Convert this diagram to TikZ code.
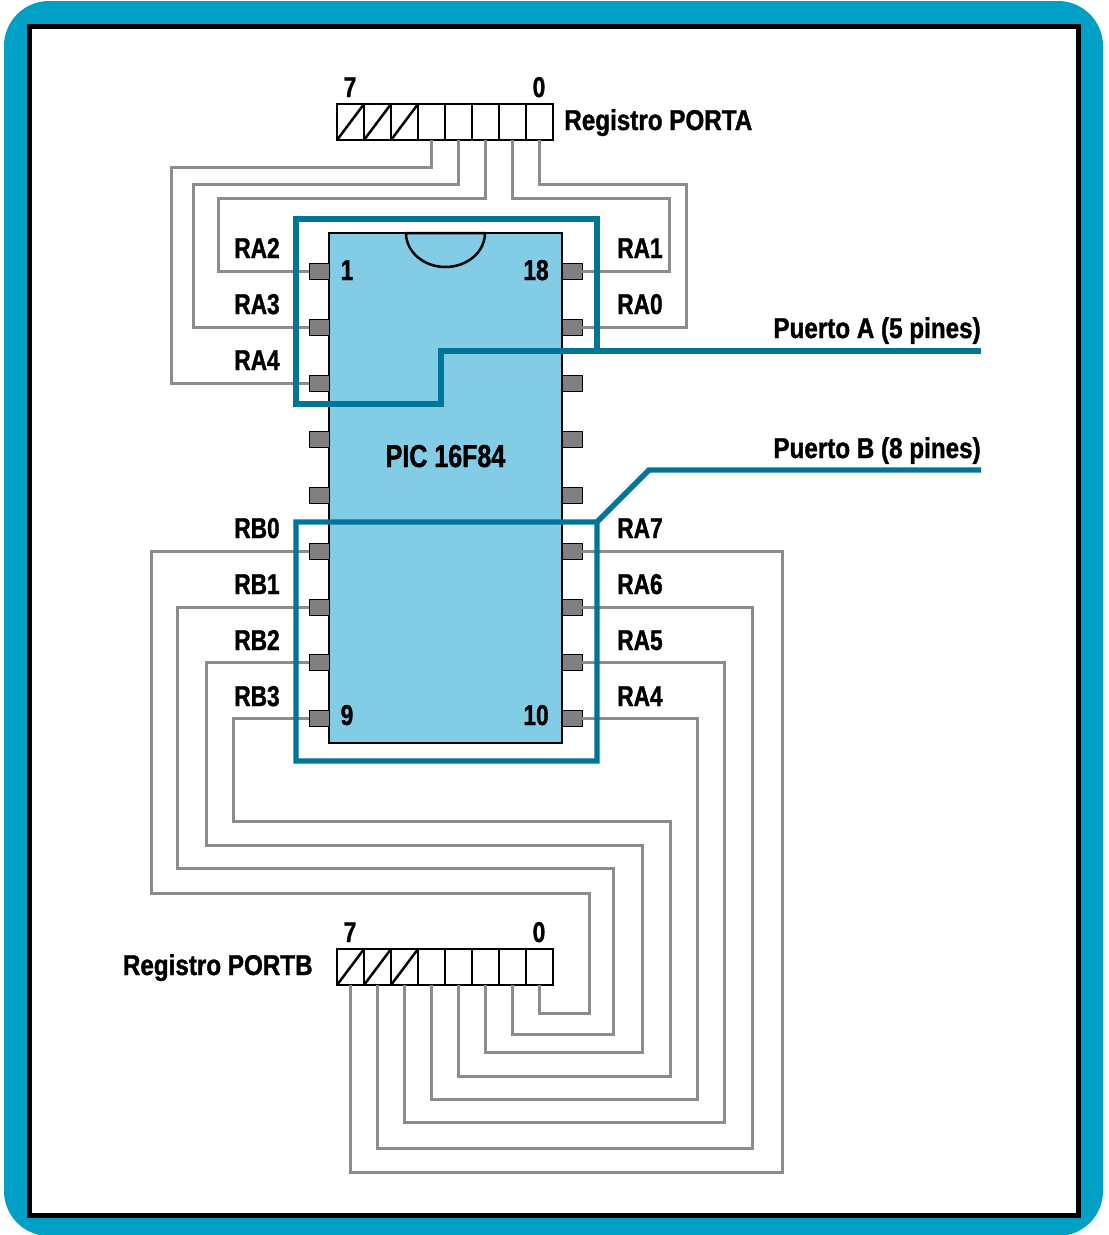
\documentclass[tikz,border=0pt]{standalone}
\usepackage{fontspec}
\setmainfont[BoldFont={Liberation Sans Bold},BoldFeatures={FakeStretch=0.79,FakeBold=1.2}]{Liberation Sans}
\newfontfamily\namefont[FakeStretch=0.845,FakeBold=1.2]{Liberation Sans Bold}
\usepackage{xcolor}
\usepackage{tikz}
\usetikzlibrary{positioning}
\definecolor{FrameBlue}{RGB}{0,159,198}
\definecolor{PortTeal}{RGB}{0,117,151}
\definecolor{ChipBlue}{RGB}{130,205,229}
\definecolor{WireGray}{RGB}{140,140,140}
\definecolor{PinGray}{RGB}{128,128,128}

\begin{document}
\begin{tikzpicture}[
  x=0.6pt,y=-0.6pt,
  chip/.style={
    draw=black,
    fill=ChipBlue,
    line width=1.6pt,
    outer sep=0pt,
    inner sep=0pt,
    minimum width=139.8pt,
    minimum height=306pt
  },
  pinbox/.style={
    draw=black,
    fill=PinGray,
    line width=0.6pt,
    outer sep=0pt,
    minimum width=12pt,
    minimum height=9.6pt,
    inner sep=0pt
  },
  cell/.style={
    draw=black,
    line width=1.6pt,
    outer sep=0pt,
    inner sep=0pt,
    minimum width=16.2pt,
    minimum height=21.6pt
  },
  wire/.style={WireGray, line width=1.8pt},
  port/.style={PortTeal, line width=3.2pt, miter limit=10},
  tag/.style={font=\fontsize{17.2}{20}\selectfont\bfseries, inner sep=0pt, text=black},
  nametag/.style={font=\fontsize{17.2}{20}\selectfont\namefont, inner sep=0pt, text=black},
  chipname/.style={tag, font=\fontsize{19}{22}\selectfont\bfseries}
]
\useasboundingbox (0,0) rectangle (1109,1235);
% frame
\fill[FrameBlue, rounded corners=27pt] (4,1) rectangle (1103,1236);
\draw[fill=white, line width=3pt] (29,26.5) rectangle (1078,1215);

% chip and pins
\node[chip] (pic) at (445.5,488) {};
\draw[line width=1.5pt, fill=ChipBlue] (406,233)
  arc[start angle=180, end angle=0, x radius=39.5, y radius=34] -- cycle;
\foreach \n/\y in {1/271,2/327,3/383,4/439,5/495,6/551,7/607,8/662,9/718} {
  \node[pinbox] (pinl\n) at (319,\y) {};
  \node[pinbox] (pinr\n) at (572,\y) {};
}

% registers
\foreach \n in {0,...,7} {
  \node[cell] (rega\n) at ({539.5-27*\n},122) {};
  \node[cell] (regb\n) at ({539.5-27*\n},967) {};
}
\foreach \n in {5,6,7} {
  \draw[line width=1.5pt] (rega\n.south west) -- (rega\n.north east);
  \draw[line width=1.5pt] (regb\n.south west) -- (regb\n.north east);
}

% PORTA wires
\foreach \c/\ly/\lx/\p in {rega4/167/171/pinl3,rega3/184/193/pinl2,rega2/198/218/pinl1}
  \draw[wire] (\c.south) |- (\lx,\ly) |- (\p.west);
\foreach \c/\ly/\lx/\p in {rega1/198/669/pinr1,rega0/184/686/pinr2}
  \draw[wire] (\c.south) |- (\lx,\ly) |- (\p.east);

% PORTB wires
\foreach \c/\ly/\lx/\my/\mx/\p in {regb0/1013/589/893/151/pinl6,regb1/1034/613/868/177/pinl7,
  regb2/1052/642/845/206/pinl8,regb3/1076/670/821/233/pinl9}
  \draw[wire] (\c.south) |- (\lx,\ly) |- (\mx,\my) |- (\p.west);
\foreach \c/\ly/\lx/\p in {regb4/1099/697/pinr9,regb5/1122/724/pinr8,
  regb6/1148/752/pinr7,regb7/1172/782/pinr6}
  \draw[wire] (\c.south) |- (\lx,\ly) |- (\p.east);

% port outlines
\coordinate (portaend) at (981,351);
\coordinate (portbend) at (981,470);
\draw[port] (portaend) -- (441,351) -- (441,404) -- (296,404) -- (296,219) -- (597,219) -- (597,351);
\draw[port] (portbend) -- (649,470) -- (597,522) -- (296,522) -- (296,761) -- (597,761) -- (597,522);

% labels
\foreach \t/\y in {RA2/258,RA3/314,RA4/370,RB0/538,RB1/594,RB2/650,RB3/706}
  \node[tag, anchor=base east] (lab\t) at (280,\y) {\t};
\foreach \t/\y/\k in {RA1/258/a,RA0/314/b,RA7/538/c,RA6/594/d,RA5/650/e,RA4/706/f}
  \node[tag, anchor=base west] (labr\k) at (617,\y) {\t};
\node[tag, anchor=base] (numone) at (347,280) {1};
\node[tag, anchor=base] (numnine) at (347,725) {9};
\node[tag, anchor=base east] (numeighteen) at (549,280) {18};
\node[tag, anchor=base east] (numten) at (549,725) {10};
\node[chipname, anchor=base] (picname) at (445.5,467) {PIC 16F84};
\node[tag, anchor=base] (asiete) at (350,97) {7};
\node[tag, anchor=base] (acero) at (539,97) {0};
\node[tag, anchor=base] (bsiete) at (350,942) {7};
\node[tag, anchor=base] (bcero) at (539,942) {0};
\node[nametag, anchor=base west] (reganame) at (564,130) {Registro PORTA};
\node[nametag, anchor=base east] (regbname) at (313,975) {Registro PORTB};
\node[nametag, anchor=base east] (portaname) at (981,338) {Puerto A (5 pines)};
\node[nametag, anchor=base east] (portbname) at (981,458) {Puerto B (8 pines)};
\end{tikzpicture}
\end{document}
